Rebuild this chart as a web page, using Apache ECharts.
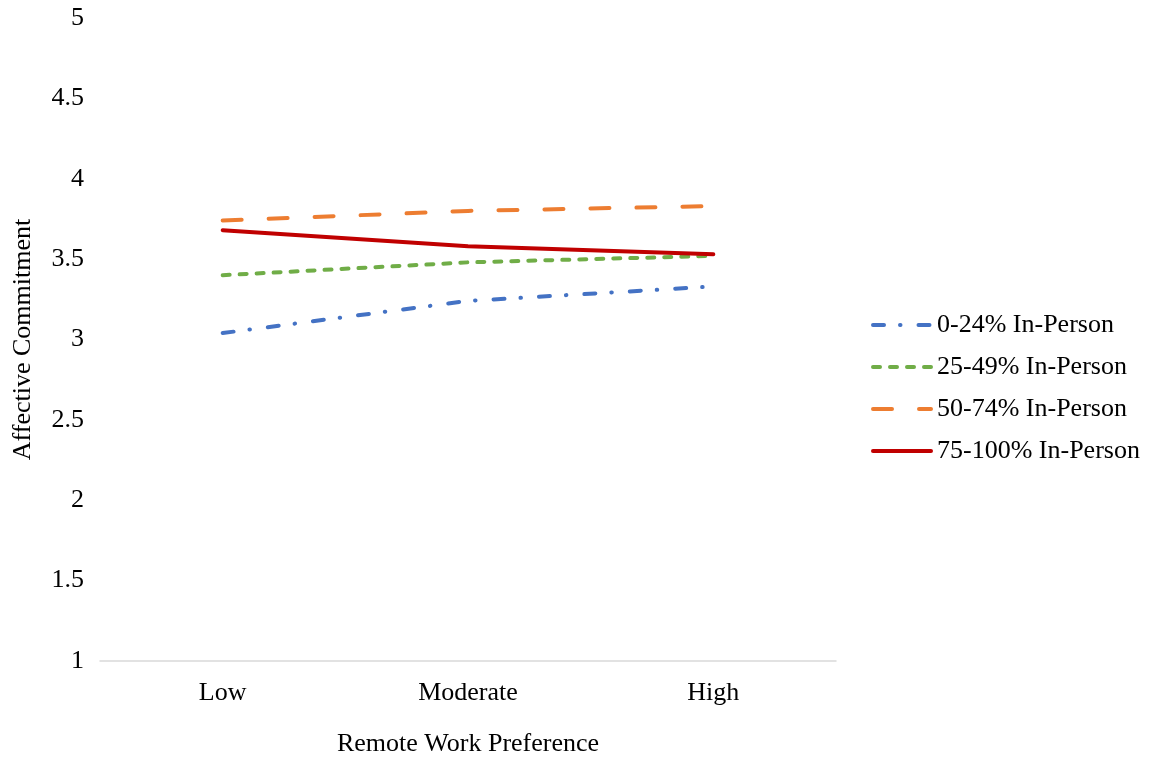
<!DOCTYPE html>
<html>
<head>
<meta charset="utf-8">
<script src="https://cdn.jsdelivr.net/npm/echarts@6/dist/echarts.min.js"></script>
<style>
  html, body { margin: 0; padding: 0; background: #fff; }
  #chart { width: 1153px; height: 757px; }
</style>
</head>
<body>
<div id="chart"></div>
<script>
// Affective commitment by remote work preference, per in-person share group
const categories = ['Low', 'Moderate', 'High'];
const seriesNames = ['0-24% In-Person', '25-49% In-Person', '50-74% In-Person', '75-100% In-Person'];
const inPerson0to24 = [3.04, 3.24, 3.33];
const inPerson25to49 = [3.40, 3.48, 3.52];
const inPerson50to74 = [3.74, 3.80, 3.83];
const inPerson75to100 = [3.68, 3.58, 3.53];
const yTicks = { min: 1, max: 5, interval: 0.5 };

const FONT = "'Liberation Serif', 'Times New Roman', serif";

function lineSeries(name, data, color, dash) {
  return {
    name: name,
    type: 'line',
    data: data,
    symbol: 'none',
    smooth: false,
    lineStyle: { color: color, width: 4, type: dash, cap: 'round' },
    itemStyle: { color: color }
  };
}

const chart = echarts.init(document.getElementById('chart'), null, { renderer: 'canvas' });
chart.setOption({
  animation: false,
  backgroundColor: '#ffffff',
  textStyle: { fontFamily: FONT, color: '#000' },
  grid: { left: 100, right: 317, top: 18, bottom: 96, containLabel: false, outerBoundsMode: 'none' },
  legend: {
    orient: 'vertical',
    left: 866,
    top: 307,
    itemWidth: 58,
    itemHeight: 26,
    itemGap: 16,
    itemStyle: { opacity: 0, borderWidth: 0 },
    lineStyle: { width: 4, cap: 'round' },
    textStyle: { fontFamily: FONT, fontSize: 26, color: '#000', padding: [0, 0, 0, 1] },
    data: seriesNames
  },
  xAxis: {
    type: 'category',
    data: categories,
    boundaryGap: true,
    axisLine: { show: true, lineStyle: { color: '#d9d9d9', width: 1.5 } },
    axisTick: { show: false },
    axisLabel: { fontFamily: FONT, fontSize: 26, color: '#000', margin: 19 },
    name: 'Remote Work Preference',
    nameLocation: 'middle',
    nameGap: 70,
    nameTextStyle: { fontFamily: FONT, fontSize: 26, color: '#000' }
  },
  yAxis: {
    type: 'value',
    min: yTicks.min,
    max: yTicks.max,
    interval: yTicks.interval,
    axisLine: { show: false },
    axisTick: { show: false },
    splitLine: { show: false },
    axisLabel: { fontFamily: FONT, fontSize: 26, color: '#000', margin: 16 },
    name: 'Affective Commitment',
    nameLocation: 'middle',
    nameGap: 64,
    nameTextStyle: { fontFamily: FONT, fontSize: 26, color: '#000' }
  },
  series: [
    lineSeries(seriesNames[0], inPerson0to24, '#4472c4', [11, 16, 0.5, 18]),
    lineSeries(seriesNames[1], inPerson25to49, '#70ad47', [7, 10]),
    lineSeries(seriesNames[2], inPerson50to74, '#ed7d31', [19, 27]),
    lineSeries(seriesNames[3], inPerson75to100, '#c00000', 'solid')
  ]
});
</script>
</body>
</html>
